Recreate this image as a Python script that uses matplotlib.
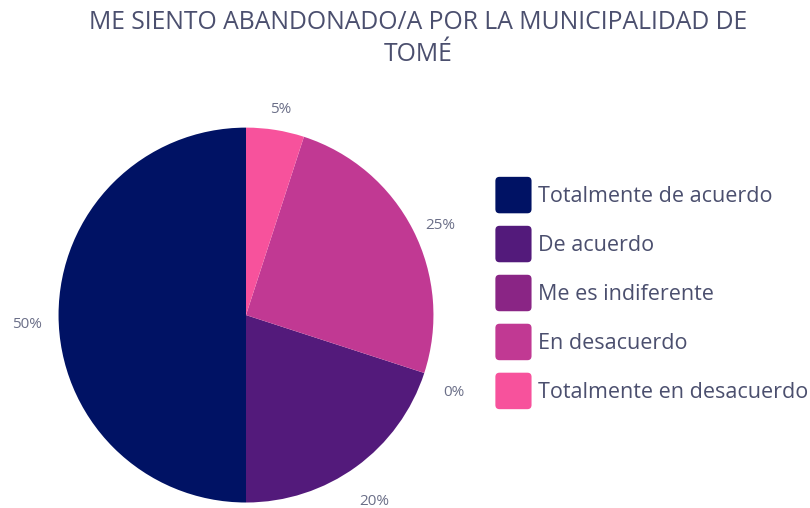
import matplotlib
matplotlib.use("Agg")
import matplotlib.pyplot as plt
from matplotlib.patches import FancyBboxPatch, Patch
from matplotlib.legend_handler import HandlerPatch

plt.rcParams['font.family'] = ['Open Sans', 'DejaVu Sans']

categories = ["Totalmente de acuerdo", "De acuerdo", "Me es indiferente",
              "En desacuerdo", "Totalmente en desacuerdo"]
values = [50, 20, 0, 25, 5]
colors = ["#001264", "#531a7b", "#8a2585", "#c13993", "#f7529c"]
title = "ME SIENTO ABANDONADO/A POR LA MUNICIPALIDAD DE\nTOMÉ"

text_color = "#4b4f6e"


class RoundSquare(HandlerPatch):
    def create_artists(self, legend, orig_handle, xdescent, ydescent,
                       width, height, fontsize, trans):
        p = FancyBboxPatch((-xdescent, -ydescent), width, height,
                           boxstyle="round,pad=0,rounding_size=3",
                           facecolor=orig_handle.get_facecolor(),
                           edgecolor="none", transform=trans)
        return [p]


fig = plt.figure(figsize=(8.1, 5.08), dpi=100)
ax = fig.add_axes([0.0722, 0.0108, 0.463, 0.738])

labels = [f"{v}%" for v in values]
wedges, texts = ax.pie(values, labels=labels, colors=colors, startangle=90,
                       counterclock=True, labeldistance=1.166,
                       wedgeprops=dict(linewidth=0),
                       textprops=dict(color="#6b6f88", fontsize=11))
# labels sit centred and a little below their anchor point
for t in texts:
    x, y = t.get_position()
    t.set_position((x, y - 0.053))
    t.set_ha('center')
    t.set_va('center')
ax.set_xlim(-1, 1)
ax.set_ylim(-1, 1)
ax.set_aspect('equal')

fig.text(418 / 810, 1 - 10 / 508, title, ha='center', va='top',
         fontsize=17.8, color=text_color, linespacing=1.35)

handles = [Patch(facecolor=c) for c in colors]
leg = fig.legend(handles, categories, loc='center left',
                 bbox_to_anchor=(476 / 810, 1 - 293 / 508),
                 frameon=False, fontsize=15.5, handlelength=1.68,
                 handleheight=2.23, labelspacing=0.58, handletextpad=0.3,
                 handler_map={Patch: RoundSquare()})
for t in leg.get_texts():
    t.set_color(text_color)

fig.savefig("out.png", dpi=100)
